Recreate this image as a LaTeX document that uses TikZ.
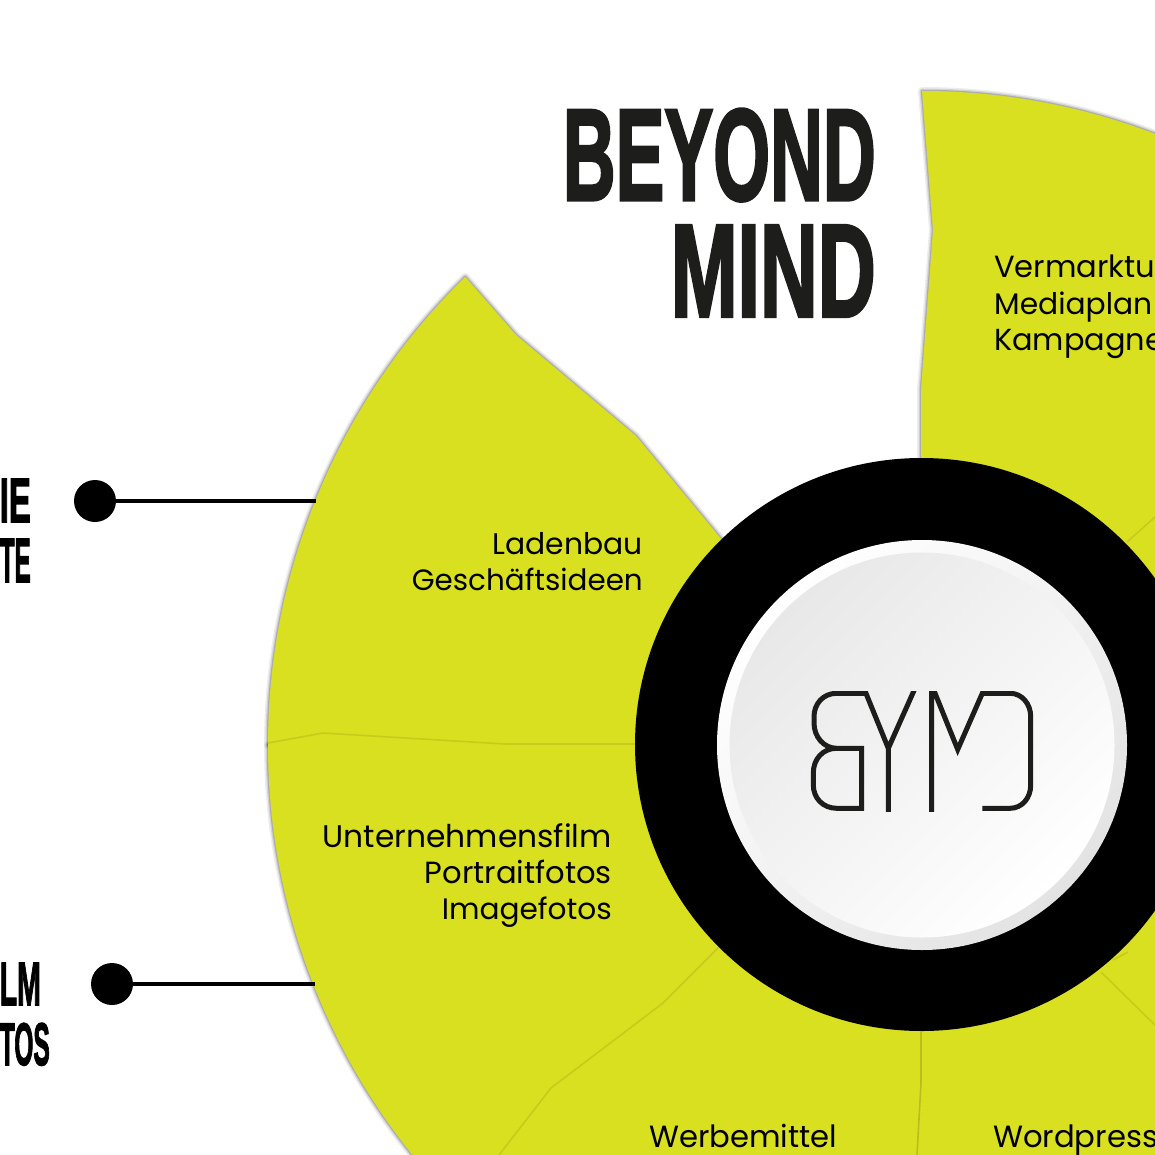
\documentclass[tikz,border=0pt]{standalone}
\usepackage{fontspec}
\usepackage{graphicx}
\setmainfont{Poppins}
\newfontfamily\bodyfont{Poppins}
\newfontfamily\titlefont[FakeBold=2.5]{Liberation Sans Bold}
\definecolor{leaf}{HTML}{D9E01F}
\definecolor{seam}{HTML}{C6CB1C}
\definecolor{seamdark}{HTML}{BABE1A}
\definecolor{ink}{HTML}{1D1D1B}
\tikzset{
  softa/.style={draw=black,line width=8pt,opacity=.07,line join=round},
  softb/.style={draw=black,line width=5pt,opacity=.11,line join=round},
  softc/.style={draw=black,line width=2.5pt,opacity=.18,line join=round},
  seamline/.style={draw=seam,line width=1.6pt,line join=round},
  seamhard/.style={draw=seamdark,line width=1.6pt,line join=round},
  textlabel/.style={inner sep=0pt,font=\bodyfont\fontsize{29}{29}\selectfont,text=black},
  labelr/.style={textlabel,anchor=base east},
  labell/.style={textlabel,anchor=base west},
  headbox/.style={inner sep=0pt,anchor=base east,text=black},
  dotnode/.style={circle,fill=black,minimum size=42pt,inner sep=0pt},
  wire/.style={draw=black,line width=3.5pt},
  logo/.style={draw=ink,line width=5pt,line join=miter},
}
\newcommand{\headtxt}[3]{\resizebox{#1pt}{#2pt}{\titlefont #3}}
\newcommand{\fitw}[2]{\resizebox{#1pt}{!}{#2}}
\begin{document}
\begin{tikzpicture}[x=1pt,y=-1pt]
\useasboundingbox (0,0) rectangle (1155,1155);
\clip (0,0) rectangle (1155,1155);
\def\petalA{(268,745) arc[start angle=180,end angle=134.3,radius=654pt] -- (516,335) -- (636,436) -- (722,540) -- (800,760) -- cycle}
\def\petalB{(922,91) arc[start angle=90,end angle=55,radius=654pt] -- (1300,600) -- (921,600) -- (921,390) -- (933,230) -- cycle}
\def\petalC{(268,745) arc[start angle=180,end angle=230,radius=654pt] -- (1300,1300) -- (1300,500) -- (1000,600) -- (640,745) -- cycle}
\foreach \p in {\petalA,\petalB,\petalC}{
  \path[softa] \p;
  \path[softb] \p;
  \path[softc] \p;
}
\foreach \p in {\petalA,\petalB,\petalC}{
  \fill[leaf] \p;
}
% seams
\draw[seamline] (268,743) -- (323,733) -- (505,744) -- (640,744);
\draw[seamline] (719,947) -- (663,1003) -- (551,1088) -- (499,1155);
\draw[seamhard] (921,1032) -- (921,1083) -- (917,1155);
\draw[seamline] (1101,972) -- (1155,1025);
\draw[seamline] (1113,960) -- (1128,952);
\draw[seamline] (1127,542) -- (1155,517);
% hub
\node[circle,fill=black,minimum size=573pt,inner sep=0pt] (hub) at (921.5,744.5) {};
\shade[top color=white,middle color=white,bottom color=black!11,shading angle=45] (922,745) circle[radius=205pt];
\shade[top color=black!9,middle color=black!1.5,bottom color=white,shading angle=45] (922,745) circle[radius=192.5pt];
% logo
\begin{scope}
\clip (800,691) rectangle (1040,811);
\draw[logo] (867.3,693.3) -- (836.7,693.3) .. controls (823,693.3) and (814,704) .. (814,716.7) -- (814,723) .. controls (814,737) and (824,748.3) .. (836.7,748.3) -- (861.7,748.3) -- (861.7,808.3) -- (836.7,808.3) .. controls (823,808.3) and (813.3,798) .. (813.3,785) -- (813.3,773) .. controls (813.3,759) and (823,748.3) .. (836.7,748.3);
\draw[logo] (863,686) -- (888.3,748.3) -- (916,686) (888.3,748.3) -- (888.3,815);
\draw[logo] (931.7,815) -- (931.7,685) -- (957.7,749.5) -- (982.3,693.3) -- (1010,693.3) .. controls (1022,693.3) and (1030.7,704) .. (1030.7,716.7) -- (1030.7,785) .. controls (1030.7,798) and (1022,808.3) .. (1010,808.3) -- (982.3,808.3);
\end{scope}
% title
\node[headbox,text=ink] (t1) at (876,200) {\headtxt{313}{91}{BEYOND}};
\node[headbox,text=ink] (t2) at (876,316.5) {\headtxt{205}{91}{MIND}};
% side headings
\node[headbox] (h1) at (31,522) {\headtxt{31}{43}{IE}};
\node[headbox] (h2) at (31,582) {\headtxt{31}{43}{TE}};
\node[headbox] (h3) at (41,1005) {\headtxt{41}{42}{LM}};
\node[headbox] (h4) at (50,1065) {\headtxt{50}{42}{TOS}};
% connectors
\node[dotnode] (d1) at (95,501) {};
\node[dotnode] (d2) at (112,984) {};
\coordinate (e1) at (316,501);
\coordinate (e2) at (315,984);
\draw[wire] (d1) -- (e1);
\draw[wire] (d2) -- (e2);
% labels
\node[labelr] (l1) at (643,554) {\fitw{150}{Ladenbau}};
\node[labelr] (l2) at (643,590) {\fitw{231}{Geschäftsideen}};
\node[labelr] (l3) at (612,847) {\fitw{289}{Unternehmensfilm}};
\node[labelr] (l4) at (612,883) {\fitw{187}{Portraitfotos}};
\node[labelr] (l5) at (612,919) {\fitw{170}{Imagefotos}};
\node[labell] (l6) at (994,278) {\fitw{161}{Vermarktu}};
\node[labell] (l7) at (994,314) {\fitw{158}{Mediaplan}};
\node[labell] (l8) at (994,350) {\fitw{170}{Kampagne}};
\node[labell] (l9) at (649,1147) {\fitw{188}{Werbemittel}};
\node[labell] (l10) at (993,1147) {\fitw{165}{Wordpress}};
\end{tikzpicture}
\end{document}
